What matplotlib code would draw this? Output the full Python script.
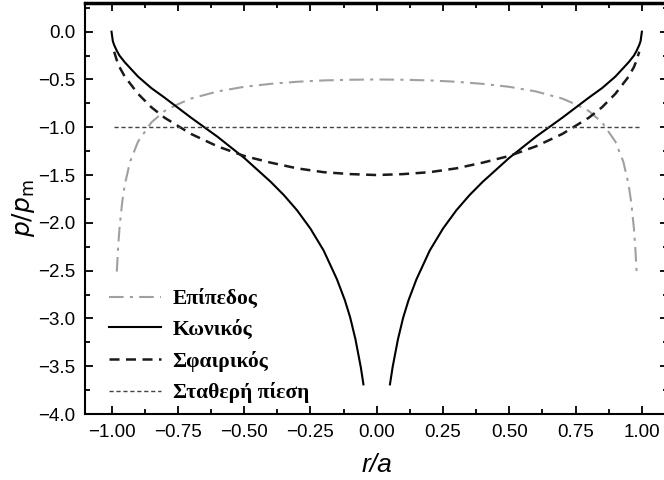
import matplotlib
matplotlib.use("Agg")
import matplotlib.pyplot as plt
from matplotlib.ticker import MultipleLocator, FuncFormatter

# ---- data ----
r_flat = [-0.98, -0.975, -0.97, -0.96, -0.95, -0.93, -0.90, -0.85, -0.80, -0.75, -0.70,
          -0.60, -0.50, -0.40, -0.30, -0.20, -0.10, 0.00, 0.10, 0.20, 0.30, 0.40, 0.50,
          0.60, 0.70, 0.75, 0.80, 0.85, 0.90, 0.93, 0.95, 0.96, 0.97, 0.975, 0.98]
p_flat = [-2.51, -2.25, -2.06, -1.79, -1.60, -1.36, -1.15, -0.95, -0.83, -0.76, -0.70,
          -0.625, -0.577, -0.546, -0.524, -0.510, -0.503, -0.500, -0.503, -0.510, -0.524,
          -0.546, -0.577, -0.625, -0.70, -0.76, -0.83, -0.95, -1.15, -1.36, -1.60, -1.79,
          -2.06, -2.25, -2.51]

r_cone_left = [-1.00, -0.995, -0.99, -0.98, -0.97, -0.95, -0.90, -0.85, -0.80, -0.70, -0.60,
               -0.50, -0.40, -0.35, -0.30, -0.25, -0.20, -0.15, -0.12, -0.10, -0.08, -0.06, -0.05]
p_cone_left = [0.00, -0.10, -0.14, -0.20, -0.25, -0.32, -0.47, -0.59, -0.69, -0.90, -1.10,
               -1.32, -1.57, -1.71, -1.87, -2.06, -2.29, -2.59, -2.81, -2.99, -3.22, -3.51, -3.69]
r_cone_right = [0.05, 0.06, 0.08, 0.10, 0.12, 0.15, 0.20, 0.25, 0.30, 0.35, 0.40, 0.50,
                0.60, 0.70, 0.80, 0.85, 0.90, 0.95, 0.97, 0.98, 0.99, 0.995, 1.00]
p_cone_right = [-3.69, -3.51, -3.22, -2.99, -2.81, -2.59, -2.29, -2.06, -1.87, -1.71, -1.57,
                -1.32, -1.10, -0.90, -0.69, -0.59, -0.47, -0.32, -0.25, -0.20, -0.14, -0.10, 0.00]

r_sphere = [-0.99, -0.98, -0.97, -0.95, -0.90, -0.85, -0.80, -0.70, -0.60, -0.50, -0.40,
            -0.30, -0.20, -0.10, 0.00, 0.10, 0.20, 0.30, 0.40, 0.50, 0.60, 0.70, 0.80,
            0.85, 0.90, 0.95, 0.97, 0.98, 0.99]
p_sphere = [-0.21, -0.30, -0.37, -0.47, -0.65, -0.79, -0.90, -1.07, -1.20, -1.30, -1.37,
            -1.43, -1.47, -1.49, -1.50, -1.49, -1.47, -1.43, -1.37, -1.30, -1.20, -1.07,
            -0.90, -0.79, -0.65, -0.47, -0.37, -0.30, -0.21]

r_const = [-0.99, 0.99]
p_const = [-1.0, -1.0]

x_ticks = [-1.0, -0.75, -0.5, -0.25, 0.0, 0.25, 0.5, 0.75, 1.0]
labels = ["Επίπεδος", "Κωνικός", "Σφαιρικός", "Σταθερή πίεση"]
x_label = "r/a"
y_label = r"$p/p_{\mathrm{m}}$"

# ---- figure ----
plt.rcParams['font.family'] = ['Liberation Sans', 'DejaVu Sans']
fig = plt.figure(figsize=(6.64, 4.80), dpi=100)
ax = fig.add_axes([85/664, 1-414/480, 583.4/664, 411/480])

ax.plot(r_flat, p_flat, color='#a0a0a0', lw=1.5, dashes=(7, 3, 1.5, 3), label=labels[0])
ax.plot(r_cone_left, p_cone_left, color='black', lw=1.5, label=labels[1])
ax.plot(r_cone_right, p_cone_right, color='black', lw=1.5)
ax.plot(r_sphere, p_sphere, color='#1a1a1a', lw=1.8, dashes=(4, 2.6), label=labels[2])
ax.plot(r_const, p_const, color='#444444', lw=1.0, dashes=(3, 2), label=labels[3])

ax.set_xlim(-1.1, 1.1)
ax.set_ylim(-4.0, 0.3)
ax.set_xticks(x_ticks)
ax.xaxis.set_minor_locator(MultipleLocator(0.125))
ax.yaxis.set_major_locator(MultipleLocator(0.5))
ax.yaxis.set_minor_locator(MultipleLocator(0.25))
ax.xaxis.set_major_formatter(FuncFormatter(lambda v, p: f"{v:.2f}".replace('-', '\u2212')))
ax.yaxis.set_major_formatter(FuncFormatter(lambda v, p: f"{v:.1f}".replace('-', '\u2212')))
ax.tick_params(which='both', direction='in', top=True, right=True, width=1.3)
ax.tick_params(which='major', length=6, labelsize=13.5, pad=7)
ax.tick_params(which='minor', length=3.5)
for s in ax.spines.values():
    s.set_linewidth(1.5)
ax.spines['top'].set_linewidth(2.5)

ax.set_xlabel(x_label, fontsize=19, style='italic', labelpad=9)
ax.set_ylabel(y_label, fontsize=18, labelpad=1)

leg = ax.legend(loc='upper left', bbox_to_anchor=(109/664, 1-289/480),
                bbox_transform=fig.transFigure, frameon=False, borderpad=0,
                borderaxespad=0, handlelength=2.4, handletextpad=0.55,
                labelspacing=0.5,
                prop={'family': ['Liberation Serif', 'DejaVu Serif'], 'weight': 'bold', 'size': 15.5})

fig.savefig("out.png", dpi=100)
